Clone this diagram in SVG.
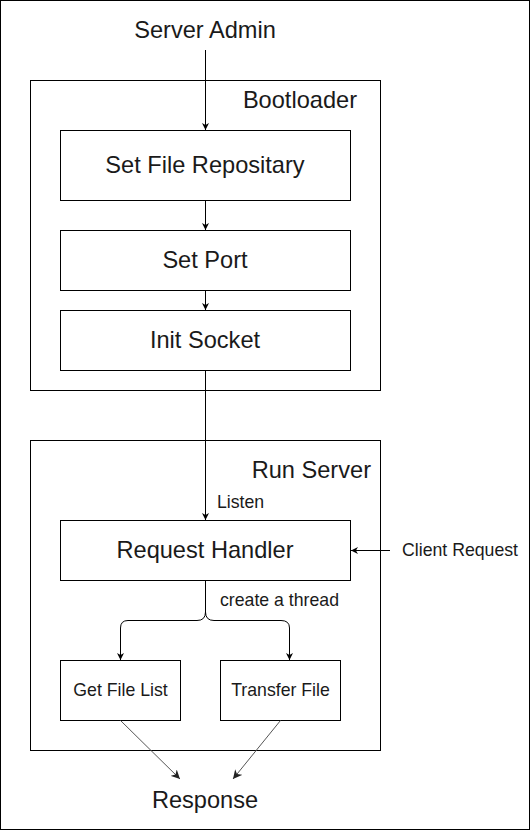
<svg xmlns="http://www.w3.org/2000/svg" width="531" height="831" viewBox="0 0 531 831">
<style>
.box{fill:#fff;stroke:#000;stroke-width:1}
.grp{fill:none;stroke:#000;stroke-width:1}
.t{font-family:"Liberation Sans",Arial,sans-serif;fill:#1a1a1a}
.big{font-size:23.6px}
.sm{font-size:17.7px}
.c{text-anchor:middle}
.e{fill:none;stroke:#000;stroke-width:1}
.g{fill:none;stroke:#555;stroke-width:1}
</style>
<defs>
<marker id="ah" viewBox="0 0 10 10" refX="10" refY="5" markerWidth="7" markerHeight="7" markerUnits="userSpaceOnUse" orient="auto">
<path d="M0,0 L10,5 L0,10 L3,5 Z" fill="#000"/>
</marker>
<marker id="ahg" viewBox="0 0 10 10" refX="10" refY="5" markerWidth="9" markerHeight="9" markerUnits="userSpaceOnUse" orient="auto">
<path d="M0,0 L10,5 L0,10 L3,5 Z" fill="#222"/>
</marker>
</defs>
<rect x="0.5" y="0.5" width="529" height="829" fill="#fff" stroke="#000"/>
<g id="server-admin"><text class="t big c" x="205" y="38">Server Admin</text></g>
<g id="bootloader">
<rect class="grp" x="30.5" y="80.5" width="350" height="310"/>
<text class="t big" x="357" y="108" text-anchor="end">Bootloader</text>
</g>
<g id="set-file-repositary">
<rect class="box" x="60.5" y="130.5" width="290" height="70"/>
<text class="t big c" x="205" y="173">Set File Repositary</text>
</g>
<g id="set-port">
<rect class="box" x="60.5" y="230.5" width="290" height="60"/>
<text class="t big c" x="205" y="268">Set Port</text>
</g>
<g id="init-socket">
<rect class="box" x="60.5" y="310.5" width="290" height="60"/>
<text class="t big c" x="205" y="348">Init Socket</text>
</g>
<g id="run-server">
<rect class="grp" x="30.5" y="440.5" width="350" height="310"/>
<text class="t big" x="371" y="478" text-anchor="end">Run Server</text>
</g>
<g id="request-handler">
<rect class="box" x="60.5" y="520.5" width="290" height="60"/>
<text class="t big c" x="205" y="558">Request Handler</text>
</g>
<g id="get-file-list">
<rect class="box" x="60.5" y="660.5" width="120" height="60"/>
<text class="t sm c" x="120.5" y="696">Get File List</text>
</g>
<g id="transfer-file">
<rect class="box" x="220.5" y="660.5" width="120" height="60"/>
<text class="t sm c" x="280.5" y="696">Transfer File</text>
</g>
<g id="client-request"><text class="t sm" x="402" y="556">Client Request</text></g>
<g id="response"><text class="t big c" x="205" y="808">Response</text></g>
<g id="connectors">
<path class="e" d="M205.5,50 V130" marker-end="url(#ah)"/>
<path class="e" d="M205.5,200.5 V230" marker-end="url(#ah)"/>
<path class="e" d="M205.5,290.5 V310" marker-end="url(#ah)"/>
<path class="e" d="M205.5,370.5 V520" marker-end="url(#ah)"/>
<text class="t sm" x="217" y="508">Listen</text>
<path class="e" d="M390,550.5 H351" marker-end="url(#ah)"/>
<path class="e" d="M205.5,580.5 V612 Q205.5,620.5 197,620.5 H128 Q120.5,620.5 120.5,628 V660" marker-end="url(#ah)"/>
<path class="e" d="M205.5,612 Q205.5,620.5 214,620.5 H281 Q289.5,620.5 289.5,628 V660" marker-end="url(#ah)"/>
<text class="t sm" x="220" y="606">create a thread</text>
<path class="g" d="M120.5,720.5 L180,779" marker-end="url(#ahg)"/>
<path class="g" d="M280.5,720.5 L233,779" marker-end="url(#ahg)"/>
</g>
</svg>
